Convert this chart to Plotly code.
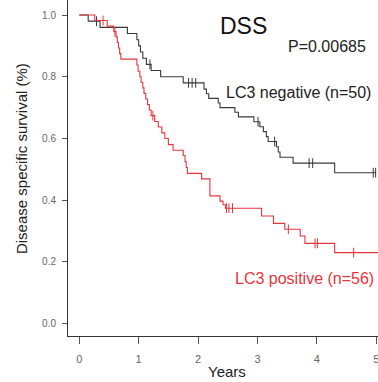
import numpy as np
import plotly.graph_objects as go

# LC3 negative (n=50)
neg_time = [0, 0.15, 0.35, 0.81, 0.97, 1.00, 1.03, 1.07, 1.13, 1.21, 1.37, 1.75, 2.10, 2.14, 2.18,
            2.34, 2.37, 2.62, 2.68, 2.94, 3.04, 3.10, 3.15, 3.18, 3.32, 3.35, 3.38, 3.60, 4.30, 5.00]
neg_surv = [1.0, 0.98, 0.96, 0.94, 0.92, 0.90, 0.88, 0.86, 0.84, 0.82, 0.80, 0.78, 0.76, 0.745, 0.73,
            0.715, 0.70, 0.685, 0.67, 0.654, 0.638, 0.622, 0.606, 0.59, 0.573, 0.556, 0.539, 0.52, 0.489, 0.489]
neg_censor = [0.29, 1.19, 1.84, 1.90, 1.96, 3.01, 3.29, 3.87, 3.93, 4.95, 4.99]

# LC3 positive (n=56)
pos_time = [0, 0.26, 0.47, 0.58, 0.62, 0.64, 0.66, 0.68, 0.70, 0.97, 0.99, 1.02, 1.04, 1.07, 1.09,
            1.12, 1.15, 1.18, 1.21, 1.27, 1.33, 1.39, 1.44, 1.50, 1.58, 1.75, 1.78, 1.80, 1.82,
            2.06, 2.20, 2.37, 2.42, 2.46, 3.07, 3.27, 3.46, 3.72, 3.80, 4.30, 5.03]
pos_surv = [1.0, 0.982, 0.964, 0.946, 0.929, 0.911, 0.893, 0.875, 0.857, 0.838, 0.818, 0.80, 0.782, 0.764, 0.746,
            0.728, 0.71, 0.692, 0.674, 0.655, 0.637, 0.618, 0.60, 0.58, 0.562, 0.545, 0.525, 0.506, 0.487,
            0.469, 0.414, 0.397, 0.385, 0.374, 0.349, 0.325, 0.306, 0.284, 0.26, 0.23, 0.23]
pos_censor = [0.40, 0.60, 1.24, 2.48, 2.52, 2.58, 3.52, 3.97, 4.01, 4.62]

x_ticks = [0, 1, 2, 3, 4, 5]
y_ticks = [0.0, 0.2, 0.4, 0.6, 0.8, 1.0]
y_tick_labels = ["0.0", "0.2", "0.4", "0.6", "0.8", "1.0"]

BLACK = "#3a3a3a"
RED = "#e8343c"


def step_value(times, survs, t):
    idx = np.searchsorted(np.array(times), t, side="right") - 1
    return survs[idx]


fig = go.Figure()
for times, survs, cens, col in [(neg_time, neg_surv, neg_censor, BLACK),
                                (pos_time, pos_surv, pos_censor, RED)]:
    fig.add_trace(go.Scatter(x=times, y=survs, mode="lines", line=dict(color=col, width=1.1, shape="hv"),
                             showlegend=False, hoverinfo="skip"))
    fig.add_trace(go.Scatter(x=cens, y=[step_value(times, survs, c) for c in cens], mode="markers",
                             marker=dict(symbol="line-ns-open", size=7, color=col, line=dict(color=col, width=1)),
                             showlegend=False, hoverinfo="skip"))

tickfont = dict(family="Liberation Sans Narrow, Liberation Sans, Arial", size=10, color="#666666")
fig.update_layout(
    width=378, height=382,
    margin=dict(l=68, r=0, t=0, b=46),
    plot_bgcolor="white", paper_bgcolor="white",
    xaxis=dict(range=[-0.19, 5.03], tickvals=x_ticks, showgrid=False, zeroline=False,
               showline=True, linecolor="#333333", linewidth=1, ticks="outside", ticklen=7,
               tickcolor="#555555", tickfont=dict(tickfont, size=11), ticklabelstandoff=6,
               ticklabeloverflow="allow"),
    yaxis=dict(range=[-0.04, 1.0486], tickvals=y_ticks, ticktext=y_tick_labels, showgrid=False,
               zeroline=False, showline=True, linecolor="#333333", linewidth=1, ticks="outside",
               ticklen=5, tickcolor="#555555", tickfont=tickfont, ticklabelstandoff=4),
    font=dict(family="Liberation Sans, Arial"),
)

ann = [
    dict(text="Disease specific survival (%)", x=-0.148, y=0.527, textangle=-90, size=15, color="#222222"),
    dict(text="Years", x=0.513, y=-0.107, size=15, color="#222222"),
    dict(text="DSS", x=0.565, y=0.923, size=23, color="#111111"),
    dict(text="P=0.00685", x=0.837, y=0.861, size=16, color="#222222"),
    dict(text="LC3 negative (n=50)", x=0.744, y=0.726, size=16, color="#222222"),
    dict(text="LC3 positive (n=56)", x=0.7645, y=0.1726, size=16, color=RED),
]
for a in ann:
    fig.add_annotation(text=a["text"], x=a["x"], y=a["y"], xref="paper", yref="paper",
                       xanchor="center", yanchor="middle", showarrow=False,
                       textangle=a.get("textangle", 0),
                       font=dict(size=a["size"], color=a["color"], family="Liberation Sans, Arial"))

fig.write_html("out.html", config={"displayModeBar": False},
               post_script="document.body.style.margin='0px';")
